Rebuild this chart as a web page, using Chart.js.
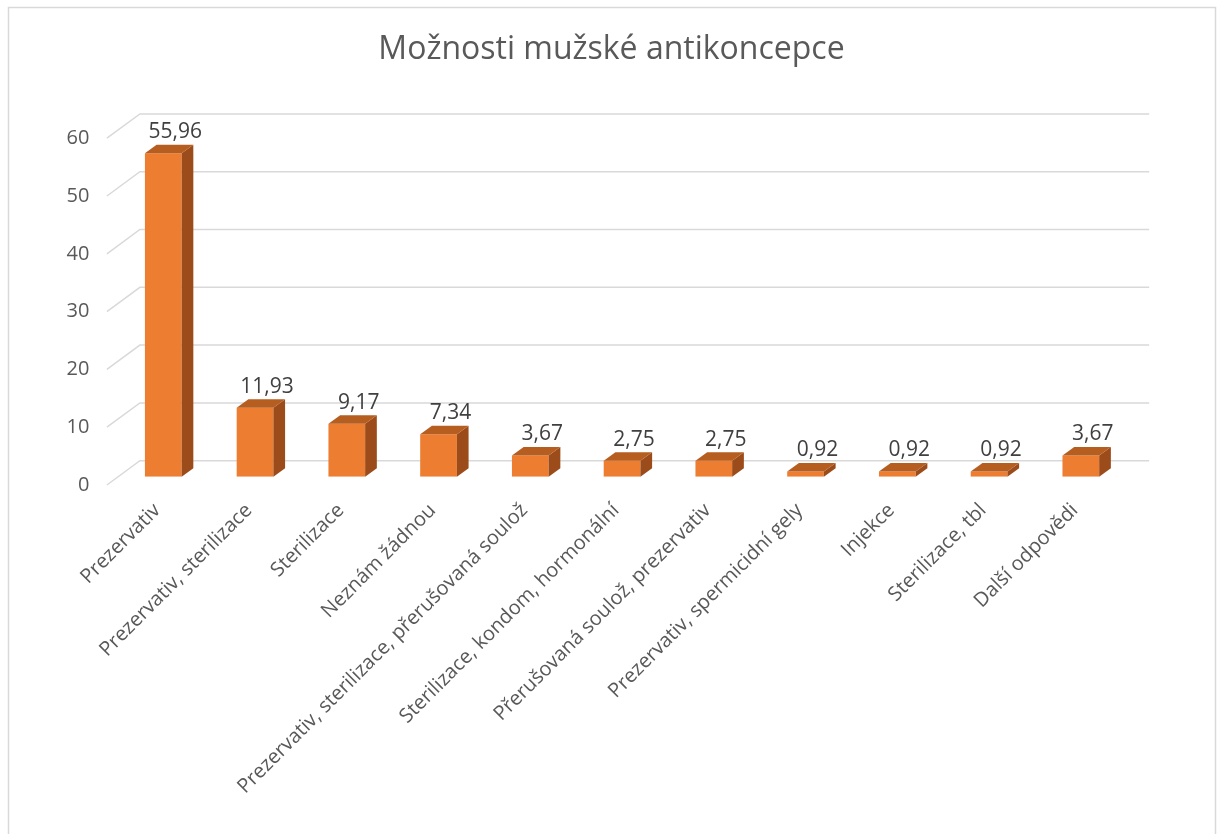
<!DOCTYPE html>
<html>
<head>
<meta charset="utf-8">
<script src="https://cdn.jsdelivr.net/npm/chart.js@4.4.1/dist/chart.umd.min.js"></script>
<style>
  html, body { margin: 0; padding: 0; background: #fff; overflow: hidden; }
  #wrap { position: absolute; left: 0; top: 0; width: 1223px; height: 834px; }
</style>
</head>
<body>
<div id="wrap"><canvas id="chart"></canvas></div>
<script>
// data
const categories = [
	'Prezervativ',
	'Prezervativ, sterilizace',
	'Sterilizace',
	'Neznám žádnou',
	'Prezervativ, sterilizace, přerušovaná soulož',
	'Sterilizace, kondom, hormonální',
	'Přerušovaná soulož, prezervativ',
	'Prezervativ, spermicidní gely',
	'Injekce',
	'Sterilizace, tbl',
	'Další odpovědi'
];
const percentages = [55.96, 11.93, 9.17, 7.34, 3.67, 2.75, 2.75, 0.92, 0.92, 0.92, 3.67];
const yTicks = [0, 10, 20, 30, 40, 50, 60];
const chartTitle = 'Možnosti mužské antikoncepce';

const textColor = '#595959';
const gridColor = '#d9d9d9';
const frontColor = '#ED7D31';
const sideColor = '#9C4C1A';
const topColor = '#B65E20';

// depth offsets (relative to the bar front plane)
const backDx = 22.5, backDy = -16;
const frontDx = -10.5, frontDy = 8.3;
const barDx = 11.7, barDy = -8.5;

// outer frame, title + back wall gridlines
const frame = {
	id: 'frame',
	beforeDraw(chart) {
		const ctx = chart.ctx;
		ctx.save();
		ctx.strokeStyle = gridColor;
		ctx.lineWidth = 1.5;
		ctx.strokeRect(8.5, 7.5, 1207, 1000);
		ctx.fillStyle = textColor;
		ctx.font = '32px "Open Sans"';
		ctx.textAlign = 'center';
		ctx.textBaseline = 'middle';
		ctx.fillText(chartTitle, chart.width / 2, 50);
		ctx.restore();
	},
	beforeDatasetsDraw(chart) {
		const ctx = chart.ctx;
		const area = chart.chartArea;
		const y = chart.scales.y;
		ctx.save();
		ctx.strokeStyle = gridColor;
		ctx.lineWidth = 1.5;
		yTicks.forEach(v => {
			const py = y.getPixelForValue(v);
			ctx.beginPath();
			ctx.moveTo(area.left + frontDx, py + frontDy);
			ctx.lineTo(area.left + backDx, py + backDy);
			ctx.lineTo(area.right + backDx, py + backDy);
			ctx.stroke();
		});
		ctx.restore();
	}
};

// side + top faces and value labels
const bars3d = {
	id: 'bars3d',
	afterDatasetsDraw(chart) {
		const ctx = chart.ctx;
		const meta = chart.getDatasetMeta(0);
		ctx.save();
		meta.data.forEach((bar, i) => {
			const l = bar.x - bar.width / 2;
			const r = bar.x + bar.width / 2;
			const t = bar.y;
			const b = bar.base;
			ctx.fillStyle = sideColor;
			ctx.beginPath();
			ctx.moveTo(r, t);
			ctx.lineTo(r + barDx, t + barDy);
			ctx.lineTo(r + barDx, b + barDy);
			ctx.lineTo(r, b);
			ctx.closePath();
			ctx.fill();
			ctx.fillStyle = topColor;
			ctx.beginPath();
			ctx.moveTo(l, t);
			ctx.lineTo(r, t);
			ctx.lineTo(r + barDx, t + barDy);
			ctx.lineTo(l + barDx, t + barDy);
			ctx.closePath();
			ctx.fill();

			ctx.fillStyle = '#404040';
			ctx.font = '21px "Open Sans"';
			ctx.textAlign = 'center';
			ctx.textBaseline = 'middle';
			ctx.fillText(percentages[i].toFixed(2).replace('.', ','), bar.x + 12, t - 21);
		});
		ctx.restore();
	}
};

new Chart(document.getElementById('chart').getContext('2d'), {
	type: 'bar',
	data: {
		labels: categories,
		datasets: [{
			data: percentages,
			backgroundColor: frontColor,
			borderWidth: 0,
			categoryPercentage: 0.8,
			barPercentage: 0.5
		}]
	},
	options: {
		responsive: true,
		maintainAspectRatio: false,
		animation: false,
		layout: {
			padding: { left: 0, right: 96.3, top: 129.9, bottom: 0 }
		},
		plugins: {
			legend: { display: false },
			tooltip: { enabled: false },
			title: { display: false }
		},
		scales: {
			y: {
				min: 0,
				max: 60,
				afterFit(scale) { scale.width = 117.4; },
				afterBuildTicks(scale) { scale.ticks = yTicks.map(v => ({ value: v })); },
				border: { display: false },
				grid: { display: false, drawTicks: false },
				ticks: {
					color: textColor,
					font: { family: 'Open Sans', size: 20 },
					padding: 28,
					labelOffset: 8.3
				}
			},
			x: {
				afterFit(scale) { scale.height = 834 - 476.7; },
				border: { display: false },
				grid: { display: false, drawTicks: false },
				ticks: {
					color: textColor,
					font: { family: 'Open Sans', size: 20 },
					minRotation: 45,
					maxRotation: 45,
					autoSkip: false,
					padding: 22,
					labelOffset: -6
				}
			}
		}
	},
	plugins: [frame, bars3d]
});
</script>
</body>
</html>
